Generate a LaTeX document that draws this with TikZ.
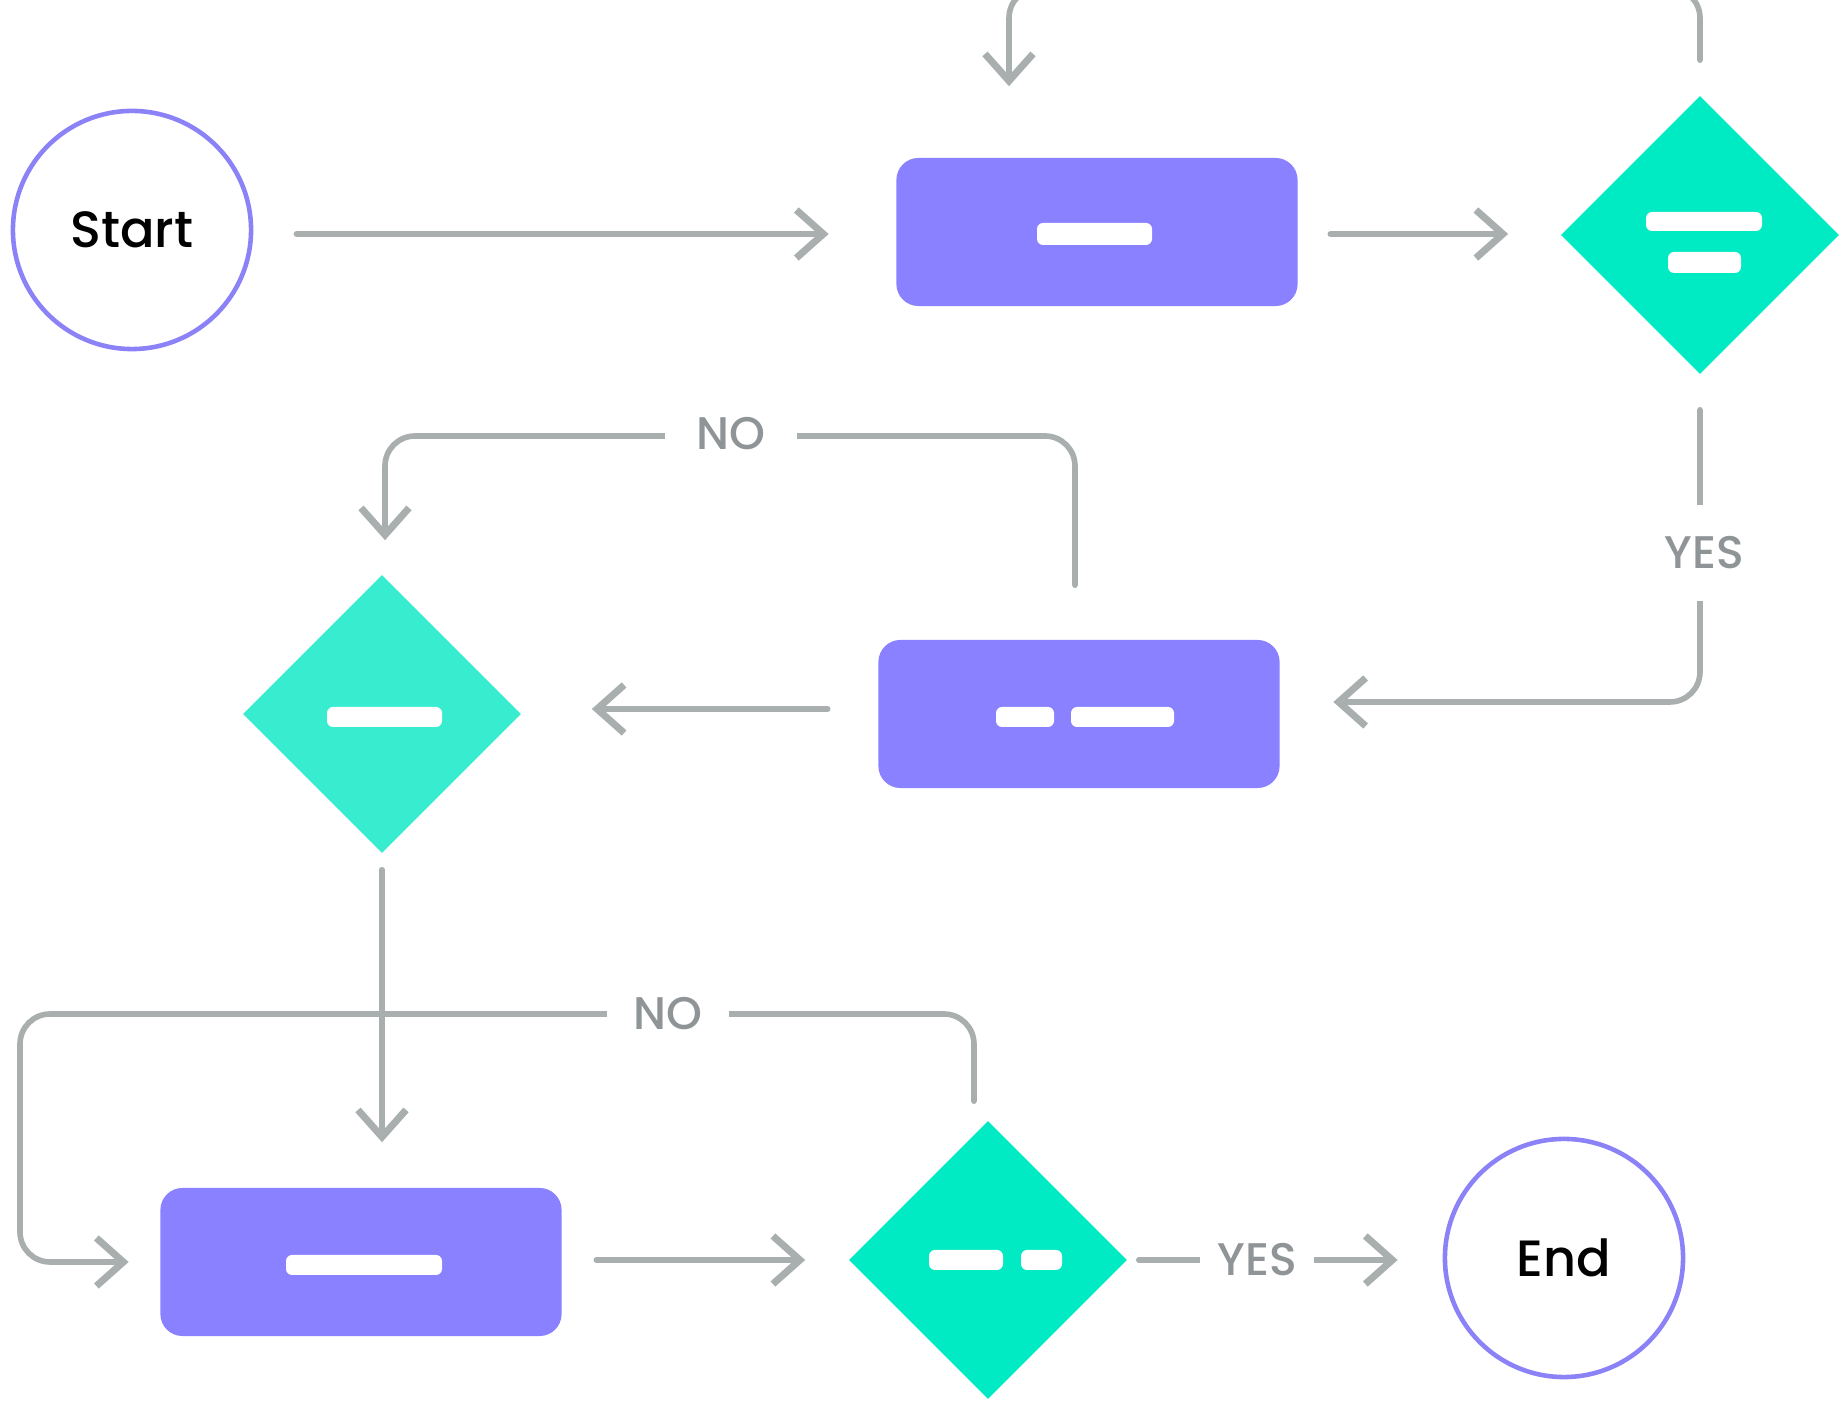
\documentclass[tikz,border=0pt]{standalone}
\usepackage{fontspec}
\setmainfont{Poppins}
\newfontfamily\termfont{Poppins Medium}
\usetikzlibrary{shapes.geometric,arrows.meta}
\definecolor{procfill}{HTML}{8981FF}
\definecolor{termline}{HTML}{8C82F8}
\definecolor{decfill}{HTML}{00EAC4}
\definecolor{decsoft}{HTML}{38ECD0}
\definecolor{linkgray}{HTML}{A9AFAE}
\definecolor{lblgray}{HTML}{8F9497}
\begin{document}
\begin{tikzpicture}[x=0.01cm,y=-0.01cm,line join=round,line cap=round,
		>={Straight Barb[length=2.7mm,width=4.8mm,line width=2pt]},
		term/.style={circle,draw=termline,line width=1.3pt,fill=white,minimum size=2.38cm,inner sep=0pt,font=\termfont\fontsize{14.5}{18}\selectfont},
		proc/.style={rectangle,rounded corners=2.2mm,fill=procfill,minimum width=4.01cm,minimum height=1.48cm},
		dec/.style={diamond,fill=decfill,minimum width=2.78cm,minimum height=2.78cm,inner sep=0pt},
		link/.style={draw=linkgray,line width=1.6pt,rounded corners=3mm},
		lbl/.style={fill=white,text=lblgray,font=\termfont\fontsize{13}{15}\selectfont,inner xsep=1mm,inner ysep=0pt}]
	\clip (0,0) rectangle (1844,1404);
	% nodes
	\node[term] (start) at (132,230) {Start};
	\node[proc] (box1) at (1097,232) {};
	\node[dec] (dec1) at (1700,235) {};
	\node[proc] (box2) at (1079,714) {};
	\node[dec,fill=decsoft] (dec2) at (382,714) {};
	\node[proc] (box3) at (361,1262) {};
	\node[dec] (dec3) at (988,1260) {};
	\node[term] (end) at (1564,1258) {End};
	\coordinate (topL) at (1009,-12);
	\coordinate (noTop) at (385,436);
	\coordinate (noLow) at (20,1014);
	% white bars
	\foreach \a/\b/\c/\d in {1037/223/1152/245,1646/212/1762/231,1668/252/1741/273,
		996/707/1054/727,1071/707/1174/727,327/707/442/727,
		286/1255/442/1275,929/1250/1003/1270,1021/1250/1062/1270}
	{\fill[white,rounded corners=0.6mm] (\a,\b) rectangle (\c,\d);}
	% connectors
	\draw[link,->,shorten <=0.43cm,shorten >=0.67cm] ([yshift=-0.2mm]box1.west -| start.east) -- ([yshift=-0.2mm]box1.west);
	\draw[link,->,shorten <=0.32cm,shorten >=0.52cm] ([yshift=-0.2mm]box1.east) -- ([yshift=-0.2mm]box1.east -| dec1.west);
	\draw[link,->,shorten <=0.35cm,shorten >=0.71cm] (dec1.north) |- (topL) -- (topL |- box1.north);
	\draw[link,->,shorten <=0.35cm,shorten >=0.53cm] (dec1.south) |- ([yshift=1.2mm]box2.east);
	\draw[link,->,shorten <=0.50cm,shorten >=0.70cm] ([yshift=0.5mm]box2.west) -- ([yshift=0.5mm]dec2.east);
	\draw[link,->,shorten <=0.54cm,shorten >=0.34cm] ([xshift=-0.4mm]box2.north) |- (noTop) -- (noTop |- dec2.north);
	\draw[link,->,shorten <=0.16cm,shorten >=0.45cm] (dec2.south) -- (dec2.south |- box3.north);
	\draw[link,->,shorten <=0.34cm,shorten >=0.43cm] (box3.east |- dec3.west) -- (dec3.west);
	\draw[link,->,shorten <=0.11cm,shorten >=0.45cm] (dec3.east) -- (dec3.east -| end.west);
	\draw[link,->,shorten <=0.19cm,shorten >=0.31cm] ([xshift=-1.4mm]dec3.north) |- (noLow) |- (box3.west);
	% labels
	\node[lbl,inner xsep=0.5mm,inner ysep=3.2mm] (yes1) at (1704,553) {YES};
	\node[lbl,inner xsep=3.2mm] (no1) at (731,434) {NO};
	\node[lbl,inner xsep=2.7mm] (no2) at (668,1014) {NO};
	\node[lbl,inner xsep=1.7mm] (yes2) at (1257,1260) {YES};
\end{tikzpicture}
\end{document}
